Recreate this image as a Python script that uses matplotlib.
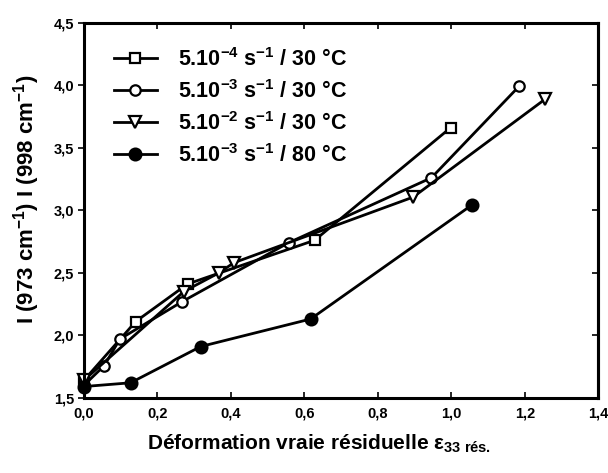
import matplotlib
matplotlib.use('Agg')
import matplotlib.pyplot as plt

plt.rcParams['font.family'] = ['Liberation Sans', 'DejaVu Sans']
plt.rcParams['font.weight'] = 'bold'
plt.rcParams['mathtext.fontset'] = 'custom'
plt.rcParams['mathtext.rm'] = 'Liberation Sans:bold'
plt.rcParams['mathtext.it'] = 'Liberation Sans:bold'
plt.rcParams['mathtext.bf'] = 'Liberation Sans:bold'

# 5.10-4 s-1 / 30 °C
x_sq = [0.0, 0.141, 0.282, 0.628, 0.998]
y_sq = [1.64, 2.11, 2.41, 2.76, 3.66]
# 5.10-3 s-1 / 30 °C
x_ci = [0.0, 0.055, 0.098, 0.268, 0.557, 0.946, 1.184]
y_ci = [1.60, 1.756, 1.97, 2.27, 2.74, 3.26, 3.99]
# 5.10-2 s-1 / 30 °C
x_tr = [0.0, 0.272, 0.368, 0.408, 0.896, 1.256]
y_tr = [1.64, 2.35, 2.50, 2.58, 3.105, 3.89]
# 5.10-3 s-1 / 80 °C
x_fc = [0.0, 0.127, 0.318, 0.617, 1.055]
y_fc = [1.59, 1.62, 1.91, 2.13, 3.04]

labels = [r'5.10$^{-4}$ s$^{-1}$ / 30 °C',
          r'5.10$^{-3}$ s$^{-1}$ / 30 °C',
          r'5.10$^{-2}$ s$^{-1}$ / 30 °C',
          r'5.10$^{-3}$ s$^{-1}$ / 80 °C']

xticks = [0.0, 0.2, 0.4, 0.6, 0.8, 1.0, 1.2, 1.4]
xticklabels = ['0,0', '0,2', '0,4', '0,6', '0,8', '1,0', '1,2', '1,4']
yticks = [1.5, 2.0, 2.5, 3.0, 3.5, 4.0, 4.5]
yticklabels = ['1,5', '2,0', '2,5', '3,0', '3,5', '4,0', '4,5']

fig = plt.figure(figsize=(6.08, 4.73), dpi=100)
ax = fig.add_axes([0.138, 0.159, 0.846, 0.793])

kw = dict(color='black', lw=2.0, markeredgewidth=1.6,
          markeredgecolor='black', clip_on=False)
ax.plot(x_sq, y_sq, marker='s', markersize=7.5, markerfacecolor='white',
        label=labels[0], **kw)
ax.plot(x_ci, y_ci, marker='o', markersize=7.5, markerfacecolor='white',
        label=labels[1], **kw)
ax.plot(x_tr, y_tr, marker='v', markersize=8, markerfacecolor='white',
        label=labels[2], **kw)
ax.plot(x_fc, y_fc, marker='o', markersize=8.5, markerfacecolor='black',
        label=labels[3], **kw)

ax.set_xlim(0, 1.4)
ax.set_ylim(1.5, 4.5)
ax.set_xticks(xticks)
ax.set_xticklabels(xticklabels)
ax.set_yticks(yticks)
ax.set_yticklabels(yticklabels)

for s in ax.spines.values():
    s.set_linewidth(2.2)

ax.tick_params(axis='x', direction='in', top=True, length=4, width=1.2,
               labelsize=10.5, pad=6)
ax.tick_params(axis='y', direction='out', length=4, width=1.2,
               labelsize=10.5, pad=3)
sec = ax.secondary_yaxis('right')
sec.set_yticks(yticks)
sec.tick_params(direction='in', length=4, width=1.2, labelright=False)
sec.spines['right'].set_linewidth(2.2)

ax.set_xlabel(r'Déformation vraie résiduelle $\epsilon_{33\ \mathrm{rés.}}$',
              fontsize=15, fontweight='bold', labelpad=9, x=0.457)
ax.set_ylabel(r'I (973 cm$^{-1}$) I (998 cm$^{-1}$)', fontsize=16,
              fontweight='bold', labelpad=8, y=0.53)

ax.legend(loc='upper left', bbox_to_anchor=(0.016, 0.99), frameon=False,
          fontsize=15.5, handlelength=2.0, handletextpad=1.0, labelspacing=0.42,
          borderaxespad=0.6)

fig.savefig('out.png', dpi=100)
